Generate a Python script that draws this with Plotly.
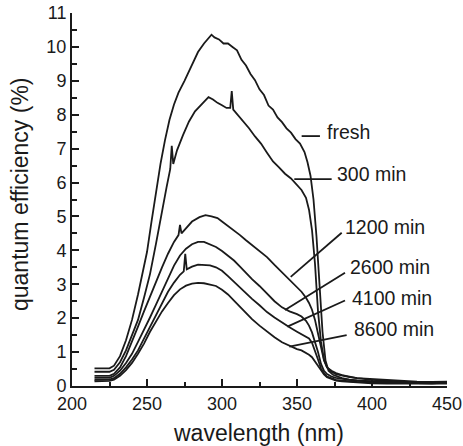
import plotly.graph_objects as go

# ---------------- data ----------------
series_names = ["fresh", "300 min", "1200 min", "2600 min", "4100 min", "8600 min"]

wl_fresh = [215, 220, 225, 228, 232, 236, 240, 244, 247, 250, 253, 256, 259, 262, 265, 268, 271, 275,
            280, 284, 288, 291, 293, 295, 298, 301, 304, 307, 310, 313, 316, 319, 322, 325, 328, 331,
            334, 337, 340, 343, 346, 349, 352, 355, 357, 359, 361, 363, 365, 367, 369, 371, 374, 377,
            380, 385, 390, 400, 410, 420, 430, 440, 450]
qe_fresh = [0.52, 0.53, 0.52, 0.6, 0.88, 1.35, 1.95, 2.7, 3.35, 3.95, 4.85, 5.7, 6.55, 7.25, 7.85, 8.3, 8.65, 9.0,
            9.5, 9.85, 10.1, 10.25, 10.36, 10.28, 10.22, 10.1, 10.1, 10.0, 9.9, 9.62, 9.45, 9.2, 9.02, 8.75, 8.58, 8.27,
            8.15, 7.92, 7.78, 7.6, 7.47, 7.28, 7.15, 6.9, 6.6, 6.2, 5.5, 4.4, 3.0, 1.6, 0.75, 0.45, 0.33, 0.27,
            0.23, 0.19, 0.16, 0.12, 0.1, 0.09, 0.08, 0.08, 0.1]

wl_300 = [215, 220, 225, 228, 232, 236, 240, 244, 248, 252, 256, 260, 263, 265.5, 266.5, 267.5, 270, 274,
          278, 282, 286, 289, 291, 294, 297, 300, 303, 305.5, 306.5, 307.5, 310, 314, 318, 322, 326, 330, 334,
          338, 342, 346, 350, 353, 356, 358, 360, 362, 364, 366, 368, 370, 373, 376, 380, 385, 390, 400,
          410, 420, 430, 440, 450]
qe_300 = [0.42, 0.43, 0.42, 0.48, 0.7, 1.05, 1.5, 1.95, 2.6, 3.3, 4.2, 5.2, 5.85, 6.4, 7.08, 6.55, 6.95, 7.4,
          7.8, 8.1, 8.3, 8.42, 8.52, 8.45, 8.35, 8.28, 8.2, 8.2, 8.7, 8.15, 8.02, 7.78, 7.6, 7.36, 7.15, 6.88, 6.62,
          6.45, 6.26, 6.12, 5.92, 5.78, 5.55, 5.2, 4.6, 3.6, 2.2, 1.3, 0.78, 0.55, 0.45, 0.38, 0.32, 0.27, 0.23, 0.18,
          0.15, 0.13, 0.12, 0.11, 0.12]

wl_1200 = [215, 220, 225, 228, 232, 236, 240, 244, 248, 252, 256, 260, 264, 268, 271, 272, 273, 276,
           280, 285, 289, 293, 297, 300, 304, 308, 312, 316, 320, 325, 330, 335, 340, 345, 350, 353,
           356, 358, 360, 362, 364, 366, 368, 370, 373, 376, 380, 385, 390, 400, 410, 420, 430, 440, 450]
qe_1200 = [0.3, 0.29, 0.3, 0.36, 0.55, 0.88, 1.3, 1.75, 2.2, 2.65, 3.1, 3.5, 3.9, 4.25, 4.45, 4.75, 4.5, 4.65,
           4.85, 4.98, 5.04, 5.0, 4.95, 4.85, 4.72, 4.58, 4.45, 4.3, 4.15, 3.98, 3.8, 3.57, 3.35, 3.12, 2.92, 2.78,
           2.6, 2.45, 2.25, 1.95, 1.55, 1.1, 0.75, 0.55, 0.42, 0.35, 0.3, 0.26, 0.23, 0.2, 0.17, 0.15, 0.13, 0.12, 0.13]

wl_2600 = [215, 220, 225, 228, 232, 236, 240, 244, 248, 252, 256, 260, 264, 268, 272, 276, 280, 284,
           288, 292, 296, 300, 304, 308, 312, 316, 320, 325, 330, 335, 340, 345, 350, 353, 356, 358,
           360, 362, 364, 366, 368, 370, 373, 376, 380, 385, 390, 400, 410, 420, 430, 440, 450]
qe_2600 = [0.24, 0.23, 0.24, 0.3, 0.45, 0.68, 0.95, 1.3, 1.65, 2.02, 2.4, 2.8, 3.18, 3.55, 3.85, 4.05, 4.18, 4.25,
           4.25, 4.18, 4.1, 3.98, 3.85, 3.7, 3.52, 3.33, 3.15, 2.95, 2.73, 2.5, 2.32, 2.2, 2.12, 2.05, 1.92, 1.78,
           1.58, 1.32, 1.0, 0.65, 0.45, 0.35, 0.28, 0.24, 0.21, 0.18, 0.16, 0.14, 0.12, 0.11, 0.1, 0.09, 0.1]

wl_4100 = [215, 220, 225, 228, 232, 236, 240, 244, 248, 252, 256, 260, 264, 268, 272, 274.5, 275.5, 276.5,
           280, 284, 288, 292, 296, 300, 304, 308, 312, 316, 320, 325, 330, 335, 340, 345, 350, 353,
           356, 358, 360, 362, 364, 366, 368, 370, 373, 376, 380, 385, 390, 400, 410, 420, 430, 440, 450]
qe_4100 = [0.18, 0.18, 0.19, 0.23, 0.36, 0.55, 0.78, 1.05, 1.4, 1.75, 2.1, 2.45, 2.78, 3.05, 3.28, 3.38, 3.9, 3.44,
           3.52, 3.58, 3.58, 3.56, 3.5, 3.4, 3.24, 3.07, 2.9, 2.73, 2.57, 2.38, 2.18, 2.02, 1.87, 1.73, 1.6, 1.52,
           1.46, 1.4, 1.28, 1.05, 0.78, 0.52, 0.37, 0.28, 0.22, 0.18, 0.16, 0.14, 0.12, 0.11, 0.1, 0.09, 0.08, 0.08, 0.09]

wl_8600 = [215, 220, 225, 228, 232, 236, 240, 244, 248, 252, 256, 260, 264, 268, 272, 276, 280, 284,
           288, 292, 296, 300, 304, 308, 312, 316, 320, 325, 330, 335, 340, 345, 350, 353, 356, 358,
           360, 362, 364, 366, 368, 370, 373, 376, 380, 385, 390, 400, 410, 420, 430, 440, 450]
qe_8600 = [0.14, 0.14, 0.15, 0.19, 0.3, 0.47, 0.68, 0.95, 1.25, 1.6, 1.92, 2.2, 2.45, 2.68, 2.85, 2.96, 3.02, 3.04,
           3.03, 3.0, 2.95, 2.84, 2.7, 2.52, 2.33, 2.14, 1.97, 1.78, 1.6, 1.44, 1.29, 1.18, 1.09, 1.05, 0.98, 0.92,
           0.85, 0.73, 0.6, 0.46, 0.34, 0.26, 0.2, 0.16, 0.14, 0.12, 0.1, 0.08, 0.07, 0.07, 0.06, 0.06, 0.07]

x_ticks = [200, 250, 300, 350, 400, 450]
y_ticks = list(range(0, 12))

# label leader lines (start near curve, end at text) and text anchor, in data units
leader_start = [(353.1, 7.37), (348.2, 6.10), (345.8, 3.22), (342.0, 2.24), (343.6, 1.75), (344.9, 1.16)]
leader_end = [(365.3, 7.37), (373.1, 6.10), (379.8, 4.52), (382.0, 3.34), (382.0, 2.52), (383.1, 1.50)]
label_pos = [(368.5, 7.48), (375.0, 6.25), (380.5, 4.70), (383.8, 3.50), (385.3, 2.61), (386.6, 1.68)]

# ---------------- figure ----------------
FONT = "Liberation Sans, Arial, Helvetica, sans-serif"
INK = "#1a1a1a"

all_wl = [wl_fresh, wl_300, wl_1200, wl_2600, wl_4100, wl_8600]
all_qe = [qe_fresh, qe_300, qe_1200, qe_2600, qe_4100, qe_8600]

fig = go.Figure()
for name, xs, ys in zip(series_names, all_wl, all_qe):
    fig.add_trace(go.Scatter(x=xs, y=ys, mode="lines", name=name,
                             line=dict(color=INK, width=1.8), showlegend=False))

for (x0, y0), (x1, y1) in zip(leader_start, leader_end):
    fig.add_shape(type="line", xref="x", yref="y", x0=x0, y0=y0, x1=x1, y1=y1,
                  line=dict(color=INK, width=1.8))

for name, (tx, ty) in zip(series_names, label_pos):
    fig.add_annotation(x=tx, y=ty, xref="x", yref="y", text=name, showarrow=False,
                       xanchor="left", yanchor="middle",
                       font=dict(family=FONT, size=19.5, color=INK))

# axis titles
fig.add_annotation(x=(258 - 72) / 375, y=(386 - 433) / 373, xref="paper", yref="paper",
                   text="wavelength (nm)", showarrow=False, xanchor="center", yanchor="middle",
                   font=dict(family=FONT, size=23, color=INK))
fig.add_annotation(x=(20 - 72) / 375, y=(386 - 194) / 373, xref="paper", yref="paper",
                   text="quantum efficiency (%)", showarrow=False, xanchor="center", yanchor="middle",
                   textangle=-90, font=dict(family=FONT, size=23, color=INK))

fig.update_layout(
    width=463, height=446,
    margin=dict(l=72, r=16, t=13, b=60, autoexpand=False),
    paper_bgcolor="white", plot_bgcolor="white",
    font=dict(family=FONT, color=INK),
)
fig.update_xaxes(
    range=[200, 450], tickvals=x_ticks, ticktext=[str(v) for v in x_ticks],
    showgrid=False, zeroline=False, showline=True, linecolor=INK, linewidth=2,
    ticks="inside", ticklen=7, tickwidth=2, tickcolor=INK, automargin=False,
    minor=dict(dtick=25, ticks="inside", ticklen=4, tickwidth=2, tickcolor=INK),
    tickfont=dict(family=FONT, size=18, color=INK),
)
fig.update_yaxes(
    range=[0, 11], tickvals=y_ticks, ticktext=[str(v) for v in y_ticks],
    showgrid=False, zeroline=False, showline=True, linecolor=INK, linewidth=2,
    ticks="inside", ticklen=7, tickwidth=2, tickcolor=INK, automargin=False,
    minor=dict(dtick=0.5, ticks="inside", ticklen=5, tickwidth=2, tickcolor=INK),
    tickfont=dict(family=FONT, size=18, color=INK),
)

fig.write_html("out.html", config={"displayModeBar": False},
               post_script="document.body.style.margin='0';")
